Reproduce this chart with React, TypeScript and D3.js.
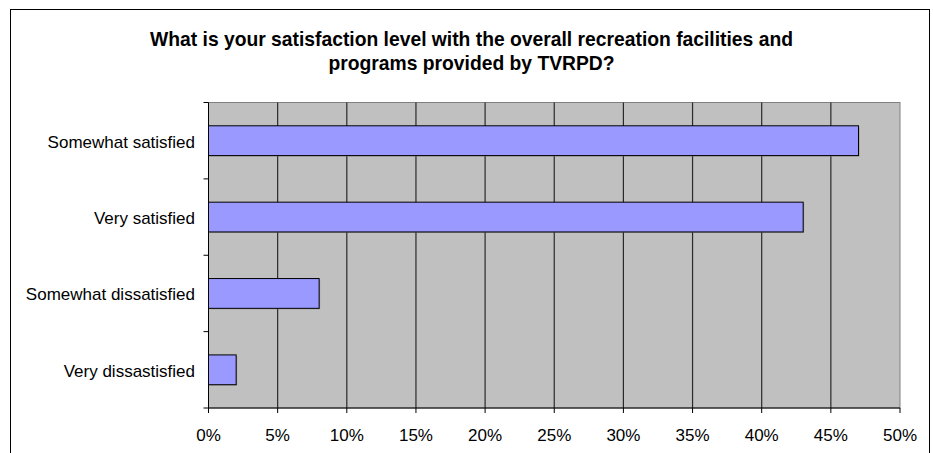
import React from "react";
import * as d3 from "d3";

const categories = ["Somewhat satisfied", "Very satisfied", "Somewhat dissatisfied", "Very dissastisfied"];
const values = [47, 43, 8, 2];
const xTicks = [0, 5, 10, 15, 20, 25, 30, 35, 40, 45, 50];
const titleLines = [
  "What is your satisfaction level with the overall recreation facilities and",
  "programs provided by TVRPD?",
];

const W = 933;
const H = 453;
const plot = { left: 208.5, right: 900, top: 102.5, bottom: 408 };
const font = "Arial, 'Liberation Sans', Helvetica, sans-serif";

export default function App() {
  const x = d3.scaleLinear().domain([0, 50]).range([plot.left, plot.right]);
  const y = d3.scaleBand<string>().domain(categories).range([plot.top, plot.bottom]).paddingInner(0.61).paddingOuter(0.305);
  const bandStep = (plot.bottom - plot.top) / categories.length;
  const boundaries = d3.range(categories.length + 1).map((i) => plot.top + i * bandStep);

  return (
    <svg width={W} height={H} style={{ position: "absolute", left: 0, top: 0 }}>
      <rect x={0} y={0} width={W} height={H} fill="#ffffff" />
      <rect x={10.5} y={9.5} width={919} height={460} fill="#ffffff" stroke="#000000" strokeWidth={1} />
      {titleLines.map((t, i) => (
        <text key={i} x={471.5} y={46 + i * 24} textAnchor="middle" fontFamily={font} fontWeight="bold" fontSize={19.3} fill="#000">
          {t}
        </text>
      ))}
      <rect x={plot.left} y={plot.top} width={plot.right - plot.left} height={plot.bottom - plot.top} fill="#c0c0c0" stroke="#808080" strokeWidth={1} />
      {xTicks.slice(1, -1).map((t) => (
        <line key={t} x1={x(t)} x2={x(t)} y1={plot.top} y2={plot.bottom} stroke="#2a2a2a" strokeWidth={1.2} />
      ))}
      {categories.map((c, i) => (
        <rect key={"s" + c} x={x(0) + 1} y={(y(c) ?? 0) + 1} width={x(values[i]) - x(0)} height={y.bandwidth()} fill="#808080" opacity={0.6} />
      ))}
      {categories.map((c, i) => (
        <rect key={c} x={x(0)} y={y(c)} width={x(values[i]) - x(0)} height={y.bandwidth()} fill="#9999ff" stroke="#000000" strokeWidth={1} />
      ))}
      <line x1={plot.left} x2={plot.left} y1={plot.top} y2={plot.bottom} stroke="#000" />
      <line x1={plot.left} x2={plot.right} y1={plot.bottom} y2={plot.bottom} stroke="#000" />
      {boundaries.map((b, i) => (
        <line key={i} x1={plot.left - 5} x2={plot.left} y1={b} y2={b} stroke="#000" />
      ))}
      {xTicks.map((t) => (
        <g key={t}>
          <line x1={x(t)} x2={x(t)} y1={plot.bottom} y2={plot.bottom + 5} stroke="#000" />
          <text x={x(t)} y={441} textAnchor="middle" fontFamily={font} fontSize={17} fill="#000">
            {t}%
          </text>
        </g>
      ))}
      {categories.map((c) => (
        <text key={c} x={195} y={(y(c) ?? 0) + y.bandwidth() / 2 + 7} textAnchor="end" fontFamily={font} fontSize={17} fill="#000">
          {c}
        </text>
      ))}
    </svg>
  );
}
